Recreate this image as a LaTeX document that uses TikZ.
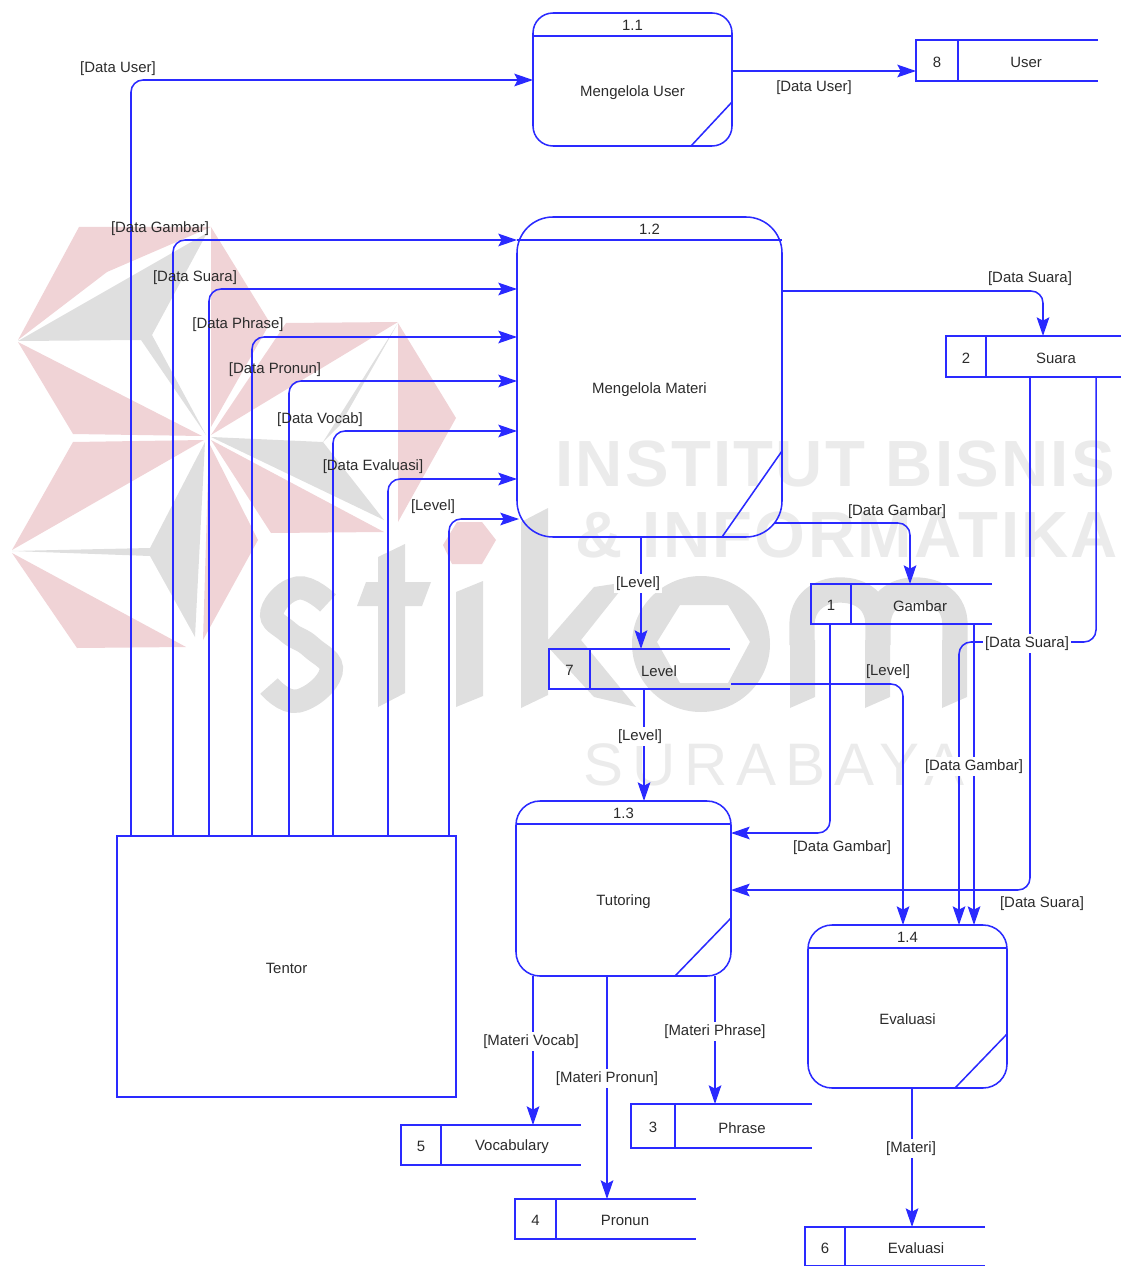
\documentclass[tikz,border=0pt]{standalone}
\usepackage{fontspec}
\setmainfont{Liberation Sans}
\newfontfamily\wmbold[LetterSpace=3.5]{Liberation Sans Bold}
\newfontfamily\wmthin[LetterSpace=15]{Liberation Sans}
\usetikzlibrary{arrows.meta,calc}
\definecolor{dfdblue}{HTML}{2A2AFF}
\definecolor{wmred}{HTML}{F0D3D6}
\definecolor{wmgray}{HTML}{DFDFDF}
\definecolor{wmtext}{HTML}{EBEBEB}
\definecolor{labeltext}{HTML}{2B2B2B}
\tikzset{
  outline/.style={draw=dfdblue,line width=1.15pt},
  flow/.style={draw=dfdblue,line width=1.15pt,rounded corners=9pt,-{Stealth[length=14pt,width=9.5pt,inset=2.5pt]}},
  txt/.style={inner sep=0pt,outer sep=0pt,yshift=-1.3pt,text=labeltext,font=\fontsize{11.2}{12}\selectfont},
  flowlabel/.style={txt},
  cutlabel/.style={txt,fill=white,inner xsep=1.5pt,inner ysep=2pt},
  box/.style={inner sep=0pt,outer sep=0pt,anchor=north west},
  redblade/.style={fill=wmred,draw=none},
  grayblade/.style={fill=wmgray,draw=none},
  wmstroke/.style={draw=wmgray,line width=18pt}
}
% name x y w h radius header-dy number label-dy (label and diagonal given by \proclabel, \diagdx, \diagdy)
\newcommand{\procbox}[9]{%
  \node[box,outline,rounded corners=#6*0.75pt,minimum width=#4*0.75pt,minimum height=#5*0.75pt] (#1) at (#2,#3) {};
  \draw[outline] ($(#1.north west)+(0,#7)$) -- ($(#1.north east)+(0,#7)$);
  \node[txt] (#1-num) at ($(#1.north)+(0,11)$) {#8};
  \node[txt] (#1-label) at ($(#1.center)+(0,#9)$) {\proclabel};
  \draw[outline] ($(#1.south east)+(-\diagdx,0)$) -- ($(#1.south east)+(0,-\diagdy)$);
}
% name x y w h divider-dx number label label-dx
\newcommand{\storebox}[9]{%
  \node[box,minimum width=#4*0.75pt,minimum height=#5*0.75pt] (#1) at (#2,#3) {};
  \draw[outline] (#1.north east) -- (#1.north west) -- (#1.south west) -- (#1.south east);
  \draw[outline] ($(#1.north west)+(#6,0)$) -- ($(#1.south west)+(#6,0)$);
  \node[txt] (#1-num) at ($(#1.west)+(#6*0.5,0)$) {#7};
  \node[txt] (#1-label) at ($(#1.west)+(#9,0)$) {#8};
}
\begin{document}
\begin{tikzpicture}[x=0.75pt,y=-0.75pt]
\useasboundingbox (0,0) rectangle (1121,1266);
% watermark
\fill[redblade] (18,340) -- (79,227) -- (211,227) -- (107,272) -- cycle;
\fill[grayblade] (18,341) -- (207,233) -- (152,335) -- (206,435) -- (141,340) -- cycle;
\fill[redblade] (18,342) -- (73,434) -- (202,436) -- cycle;
\fill[redblade] (211,227) -- (270,323) -- (211,427) -- cycle;
\fill[redblade] (286,323) -- (398,322) -- (211,435) -- cycle;
\fill[grayblade] (211,437) -- (323,442) -- (384,520) -- cycle;
\fill[grayblade] (398,323) -- (323,442) -- (340,425) -- cycle;
\fill[redblade] (398,323) -- (456,418) -- (398,522) -- cycle;
\fill[redblade] (211,440) -- (271,533) -- (384,532) -- cycle;
\fill[redblade] (204,440) -- (73,442) -- (12,550) -- cycle;
\fill[grayblade] (205,442) -- (150,548) -- (12,551) -- (150,556) -- (195,637) -- cycle;
\fill[redblade] (12,553) -- (77,648) -- (186,647) -- cycle;
\fill[redblade] (209,443) -- (258,540) -- (203,640) -- cycle;
\fill[redblade] (443,545) -- (457,522) -- (482,522) -- (496,540) -- (482,564) -- (452,564) -- cycle;
\draw[wmstroke,line width=17.5pt] plot[smooth,tension=0.8] coordinates {(328,603) (298,588) (272,612) (288,632) (311,647) (331,672) (298,701) (269,686)};
\fill[grayblade] (378,557) -- (405,544) -- (405,582) -- (431,582) -- (422,606) -- (405,606) -- (405,693) -- (378,707) -- (378,606) -- (357,606) -- (366,582) -- (378,582) -- cycle;
\fill[grayblade] (456,592) -- (483,581) -- (483,696) -- (456,707) -- cycle;
\fill[grayblade] (521,522) -- (548,508) -- (548,640) -- (594,587) -- (627,582) -- (581,640) -- (636,707) -- (594,697) -- (548,647) -- (548,695) -- (521,708) -- cycle;
\fill[grayblade,even odd rule] (701,644) ellipse [x radius=69,y radius=68] (680,605) -- (728,605) -- (750,642) -- (728,683) -- (680,683) -- (657,642) -- cycle;
\fill[grayblade] (790,708) -- (790,640) -- (815,640) -- (815,697) -- cycle;
\fill[grayblade] (865,708) -- (865,640) -- (890,640) -- (890,697) -- cycle;
\fill[grayblade] (942,708) -- (942,640) -- (967,640) -- (967,697) -- cycle;
\draw[wmstroke,line width=19pt] (802,645) -- (802,625) .. controls (802,602) and (820,590) .. (840,590) .. controls (862,590) and (878,602) .. (878,625) -- (878,645);
\draw[wmstroke,line width=19pt] (878,625) .. controls (878,602) and (895,590) .. (915,590) .. controls (938,590) and (955,602) .. (955,625) -- (955,645);
\node[inner sep=0pt,anchor=base west,text=wmtext,font=\wmbold\fontsize{49}{50}\selectfont] (wm1) at (555,486) {INSTITUT BISNIS};
\node[inner sep=0pt,anchor=base west,text=wmtext,font=\wmbold\fontsize{49}{50}\selectfont] (wm2) at (575,557) {\&~INFORMATIKA};
\node[inner sep=0pt,anchor=base west,text=wmtext,font=\wmthin\fontsize{45}{46}\selectfont] (wm3) at (583,785) {SURABAYA};
% processes
\def\proclabel{Mengelola User}\def\diagdx{41}\def\diagdy{44}
\procbox{p11}{533}{13}{199}{133}{20}{23}{1.1}{11}
\def\proclabel{Mengelola Materi}\def\diagdx{60}\def\diagdy{86}
\procbox{p12}{517}{217}{265}{320}{36}{23}{1.2}{11}
\def\proclabel{Tutoring}\def\diagdx{56}\def\diagdy{58}
\procbox{p13}{516}{801}{215}{175}{24}{23}{1.3}{11}
\def\proclabel{Evaluasi}\def\diagdx{52}\def\diagdy{54}
\procbox{p14}{808}{925}{199}{163}{24}{23}{1.4}{11}
% external entity
\node[box,outline,minimum width=339*0.75pt,minimum height=261*0.75pt] (tentor) at (117,836) {};
\node[txt] (tentor-label) at (tentor.center) {Tentor};
% data stores
\storebox{s8}{916}{40}{182}{41}{42}{8}{User}{110}
\storebox{s2}{946}{336}{175}{41}{40}{2}{Suara}{110}
\storebox{s1}{811}{584}{181}{40}{40}{1}{Gambar}{109}
\storebox{s7}{549}{649}{181}{40}{41}{7}{Level}{110}
\storebox{s5}{401}{1125}{180}{40}{40}{5}{Vocabulary}{111}
\storebox{s3}{631}{1104}{181}{44}{44}{3}{Phrase}{111}
\storebox{s4}{515}{1199}{181}{40}{41}{4}{Pronun}{110}
\storebox{s6}{805}{1227}{180}{39}{40}{6}{Evaluasi}{111}
% connectors from Tentor
\draw[flow] ($(tentor.north west)+(14,0)$) |- ($(p11.north west)+(0,67)$);
\draw[flow] ($(tentor.north west)+(56,0)$) |- ($(p12.north west)+(0,23)$);
\draw[flow] ($(tentor.north west)+(92,0)$) |- ($(p12.north west)+(0,72)$);
\draw[flow] ($(tentor.north west)+(135,0)$) |- ($(p12.north west)+(0,120)$);
\draw[flow] ($(tentor.north west)+(172,0)$) |- ($(p12.north west)+(0,164)$);
\draw[flow] ($(tentor.north west)+(216,0)$) |- ($(p12.north west)+(0,214)$);
\draw[flow] ($(tentor.north west)+(271,0)$) |- ($(p12.north west)+(0,262)$);
\draw[flow] ($(tentor.north west)+(332,0)$) |- ($(p12.north west)+(2,302)$);
% other connectors
\draw[flow] ($(p11.north east)+(0,58)$) -- ($(s8.north west)+(0,31)$);
\draw[flow] ($(p12.north east)+(0,74)$) -| ($(s2.north west)+(97,0)$);
\draw[flow] ($(p12.north west)+(258,306)$) -| ($(s1.north west)+(99,0)$);
\draw[flow] ($(p12.north west)+(124,320)$) -- ($(s7.north west)+(92,0)$);
\draw[flow] ($(s7.north west)+(95,40)$) -- ($(p13.north west)+(128,0)$);
\draw[flow] ($(s7.north west)+(182,35)$) -| ($(p14.north west)+(95,0)$);
\draw[flow] ($(s1.north west)+(19,40)$) |- ($(p13.north west)+(215,32)$);
\draw[flow] ($(s2.north west)+(84,41)$) |- ($(p13.north west)+(215,89)$);
\draw[flow] ($(s2.north west)+(150,41)$) -- ++(0,265) -| ($(p14.north west)+(151,0)$);
\draw[flow] ($(s1.north west)+(163,40)$) -- ($(p14.north west)+(166,0)$);
\draw[flow] ($(p13.north west)+(17,175)$) -- ($(s5.north west)+(132,0)$);
\draw[flow] ($(p13.north west)+(91,175)$) -- ($(s4.north west)+(92,0)$);
\draw[flow] ($(p13.north west)+(199,175)$) -- ($(s3.north west)+(84,0)$);
\draw[flow] ($(p14.north west)+(104,163)$) -- ($(s6.north west)+(107,0)$);
% flow labels
\node[flowlabel] (l1) at (118,67) {[Data User]};
\node[flowlabel] (l2) at (814,86) {[Data User]};
\node[flowlabel] (l3) at (160,227) {[Data Gambar]};
\node[flowlabel] (l4) at (195,276) {[Data Suara]};
\node[flowlabel] (l5) at (238,323) {[Data Phrase]};
\node[flowlabel] (l6) at (275,368) {[Data Pronun]};
\node[flowlabel] (l7) at (320,418) {[Data Vocab]};
\node[flowlabel] (l8) at (373,465) {[Data Evaluasi]};
\node[flowlabel] (l9) at (433,505) {[Level]};
\node[flowlabel] (l10) at (1030,277) {[Data Suara]};
\node[flowlabel] (l11) at (897,510) {[Data Gambar]};
\node[cutlabel] (l12) at (638,582) {[Level]};
\node[cutlabel] (l13) at (640,735) {[Level]};
\node[flowlabel] (l14) at (888,670) {[Level]};
\node[cutlabel] (l15) at (1027,642) {[Data Suara]};
\node[cutlabel] (l16) at (974,765) {[Data Gambar]};
\node[flowlabel] (l17) at (842,846) {[Data Gambar]};
\node[flowlabel] (l18) at (1042,902) {[Data Suara]};
\node[cutlabel] (l19) at (531,1040) {[Materi Vocab]};
\node[cutlabel] (l20) at (607,1077) {[Materi Pronun]};
\node[cutlabel] (l21) at (715,1030) {[Materi Phrase]};
\node[cutlabel] (l22) at (911,1147) {[Materi]};
\end{tikzpicture}
\end{document}
